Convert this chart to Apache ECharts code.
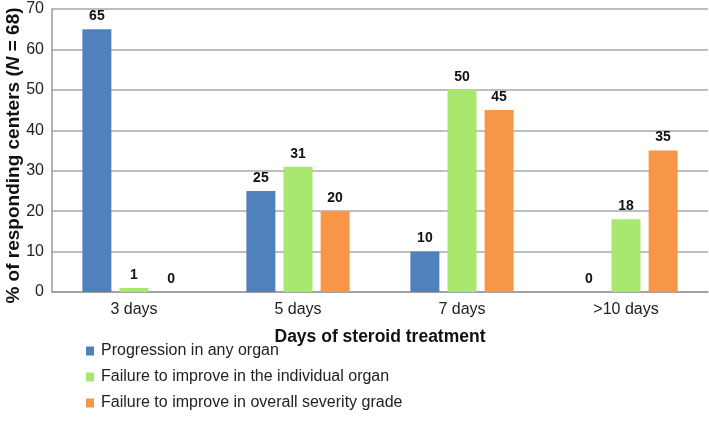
<!DOCTYPE html>
<html><head><meta charset="utf-8">
<script src="https://cdn.jsdelivr.net/npm/echarts@6/dist/echarts.min.js"></script>
<style>html,body{margin:0;padding:0;background:#fff}#c{width:709px;height:426px}</style>
</head><body><div id="c"></div>
<script>
const categories = ['3 days', '5 days', '7 days', '>10 days'];
const progression = [65, 25, 10, 0];
const failIndividual = [1, 31, 50, 18];
const failOverall = [0, 20, 45, 35];
const seriesNames = ['Progression in any organ', 'Failure to improve in the individual organ', 'Failure to improve in overall severity grade'];
const yTicks = {min: 0, max: 70, interval: 10};

const F = 'Liberation Sans, Arial, sans-serif';
const colors = ['#4F81BD', '#A8E86F', '#F79646'];
const chart = echarts.init(document.getElementById('c'), null, {renderer: 'canvas'});
const label = {show: true, position: 'top', distance: 6, fontFamily: F, fontWeight: 'bold', fontSize: 14, color: '#111'};
function mk(name, data, i) {
  return {name, type: 'bar', data, barWidth: 29, barGap: '28%', itemStyle: {color: colors[i]}, label, animation: false};
}
chart.setOption({
  animation: false,
  textStyle: {fontFamily: F},
  grid: {left: 52, right: 1, top: 9, bottom: 134, containLabel: false, outerBoundsMode: 'none'},
  xAxis: {
    type: 'category', data: categories,
    axisLine: {lineStyle: {color: '#999', width: 1.5}},
    axisTick: {show: false},
    axisLabel: {fontFamily: F, fontSize: 16, color: '#222', margin: 10},
    name: 'Days of steroid treatment', nameLocation: 'middle', nameGap: 36, nameMoveOverlap: false,
    nameTextStyle: {fontFamily: F, fontWeight: 'bold', fontSize: 17.5, color: '#111'}
  },
  yAxis: {
    type: 'value', min: yTicks.min, max: yTicks.max, interval: yTicks.interval,
    axisLine: {show: true, lineStyle: {color: '#999', width: 1.5}},
    axisTick: {show: false},
    splitLine: {lineStyle: {color: '#a8a8a8', width: 1.5}},
    axisLabel: {fontFamily: F, fontSize: 16, color: '#222', margin: 8},
    name: '{b|% of responding centers (}{i|N}{b| = 68)}', nameLocation: 'middle', nameGap: 29, nameRotate: 90, nameMoveOverlap: false,
    nameTextStyle: {padding: [0, 10, 0, 0], rich: {
      b: {fontFamily: F, fontWeight: 'bold', fontSize: 19, color: '#111'},
      i: {fontFamily: F, fontWeight: 'bold', fontStyle: 'italic', fontSize: 19, color: '#111'}
    }}
  },
  legend: {
    orient: 'vertical', left: 81, top: 338, itemGap: 10, itemWidth: 8, itemHeight: 9, icon: 'rect',
    data: seriesNames,
    textStyle: {fontFamily: F, fontSize: 16, color: '#222', padding: [0, 0, 0, 2]}
  },
  series: [mk(seriesNames[0], progression, 0), mk(seriesNames[1], failIndividual, 1), mk(seriesNames[2], failOverall, 2)]
});
</script></body></html>
